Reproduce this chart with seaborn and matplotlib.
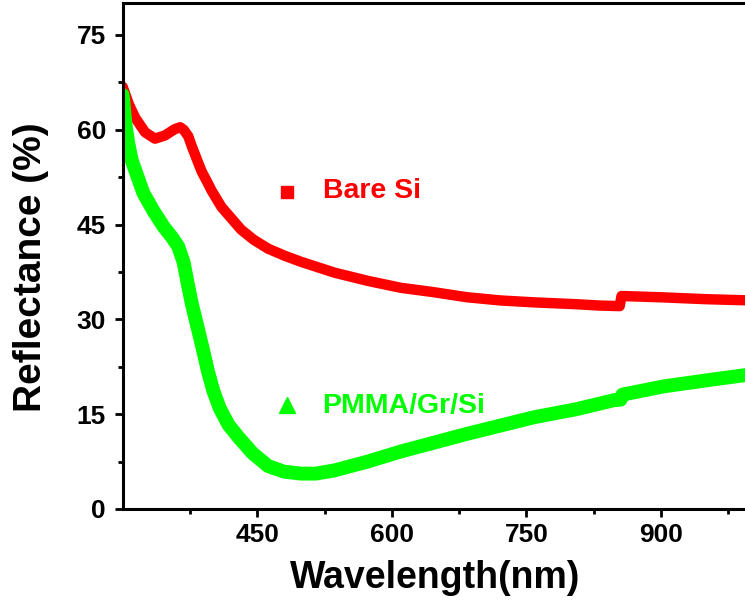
import matplotlib
matplotlib.use("Agg")
import matplotlib.pyplot as plt
from matplotlib.ticker import FixedLocator
import seaborn as sns
import pandas as pd

# ---- data ----
bare_wl = [300, 307, 314, 325, 336, 347, 358, 364, 368, 373, 377, 383, 388, 394, 399,
           410, 421, 432, 446, 462, 480, 499, 536, 573, 610, 647, 684, 721, 758, 806,
           830, 854, 856, 900, 950, 1000]
bare_r = [66.8, 64.0, 61.9, 59.6, 58.6, 59.1, 60.1, 60.4, 60.0, 59.0, 57.4, 55.2, 53.4,
          51.8, 50.4, 47.8, 46.0, 44.2, 42.6, 41.2, 40.1, 39.1, 37.4, 36.1, 35.0, 34.3,
          33.5, 33.0, 32.7, 32.4, 32.2, 32.1, 33.7, 33.5, 33.2, 33.0]

pmma_wl = [300, 303, 306, 310, 323, 335, 346, 355, 362, 368, 372, 377, 383, 389, 395,
           401, 408, 418, 430, 445, 462, 480, 499, 515, 536, 573, 610, 647, 684, 721,
           758, 806, 847, 855, 857, 903, 958, 1000]
pmma_r = [65.5, 61.0, 58.0, 55.2, 50.0, 47.0, 44.6, 43.0, 41.5, 39.0, 36.0, 32.5, 29.0,
          25.5, 21.8, 18.7, 16.0, 13.3, 11.2, 8.8, 6.8, 5.9, 5.6, 5.6, 6.1, 7.5, 9.1,
          10.5, 11.9, 13.2, 14.5, 15.8, 17.2, 17.3, 18.1, 19.4, 20.5, 21.3]

series_names = ["Bare Si", "PMMA/Gr/Si"]
x_major = [450, 600, 750, 900]
x_minor = [375, 525, 675, 825, 975]
y_major = [0, 15, 30, 45, 60, 75]
y_minor = [7.5, 22.5, 37.5, 52.5, 67.5]

RED = "#ff0000"
GREEN = "#00ff00"

df_bare = pd.DataFrame({"Wavelength": bare_wl, "Reflectance": bare_r, "Sample": series_names[0]})
df_pmma = pd.DataFrame({"Wavelength": pmma_wl, "Reflectance": pmma_r, "Sample": series_names[1]})

sns.set_theme(style="ticks")
plt.rcParams["font.family"] = ["Liberation Sans", "DejaVu Sans"]
plt.rcParams["font.weight"] = "bold"

fig = plt.figure(figsize=(7.45, 6.02), dpi=100)
W, H = 745, 602
left_px, right_px, top_px, bottom_px = 122.7, 750.7, 3.4, 509
ax = fig.add_axes([left_px / W, (H - bottom_px) / H,
                   (right_px - left_px) / W, (bottom_px - top_px) / H])

sns.lineplot(data=df_bare, x="Wavelength", y="Reflectance", color=RED,
             linewidth=7.5, estimator=None, sort=False, ax=ax, legend=False,
             solid_joinstyle="round")
sns.lineplot(data=df_pmma, x="Wavelength", y="Reflectance", color=GREEN,
             linewidth=10, estimator=None, sort=False, ax=ax, legend=False,
             solid_joinstyle="round")

ax.set_xlim(300, 1000)
ax.set_ylim(0, 80)

ax.xaxis.set_major_locator(FixedLocator(x_major))
ax.xaxis.set_minor_locator(FixedLocator(x_minor))
ax.yaxis.set_major_locator(FixedLocator(y_major))
ax.yaxis.set_minor_locator(FixedLocator(y_minor))

for s in ["left", "bottom", "top", "right"]:
    ax.spines[s].set_linewidth(2.2)
    ax.spines[s].set_color("black")

ax.tick_params(axis="both", which="major", direction="out", length=6, width=2,
               labelsize=19, color="black", labelcolor="black")
ax.tick_params(axis="both", which="minor", direction="out", length=3.5, width=2,
               color="black")
ax.tick_params(axis="y", which="major", pad=6)
ax.tick_params(axis="x", which="major", pad=4)
ax.tick_params(top=False, right=False, which="both")
for lab in ax.get_xticklabels() + ax.get_yticklabels():
    lab.set_fontweight("bold")

ax.set_xlabel("Wavelength(nm)", fontsize=27, fontweight="bold", color="black")
ax.set_ylabel("Reflectance (%)", fontsize=28, fontweight="bold", color="black")
ax.xaxis.set_label_coords(0.497, -0.1)
ax.yaxis.set_label_coords(-0.117, 0.478)

# legend entries placed as in the reference
ax.plot([0.261], [0.6276], marker="s", markersize=8.5, color=RED,
        linestyle="none", transform=ax.transAxes, clip_on=False)
ax.text(0.319, 0.615, series_names[0], transform=ax.transAxes, color=RED,
        fontsize=20.5, fontweight="bold", ha="left", va="baseline")
ax.plot([0.2616], [0.2057], marker="^", markersize=12, color=GREEN,
        linestyle="none", transform=ax.transAxes, clip_on=False)
ax.text(0.318, 0.189, series_names[1], transform=ax.transAxes, color=GREEN,
        fontsize=20.5, fontweight="bold", ha="left", va="baseline")

fig.savefig("out.png", dpi=100)
